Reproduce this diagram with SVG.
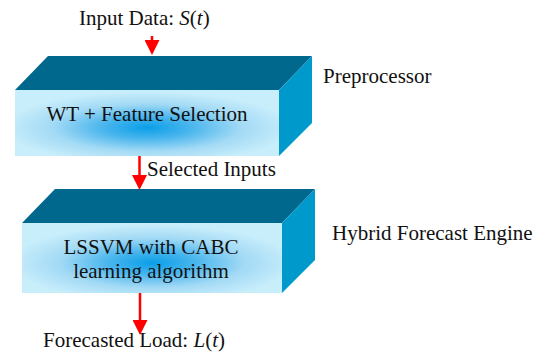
<svg xmlns="http://www.w3.org/2000/svg" width="544" height="354" viewBox="0 0 544 354">
  <style>
    text { font-family: "Liberation Serif", "Times New Roman", serif; font-size: 21px; fill: #111; }
    .top { fill: #00688C; }
    .side { fill: #0099CC; }
    .front { fill: url(#faceGlow); }
    .flow { stroke: #FF0000; stroke-width: 2.5; fill: none; marker-end: url(#head); }
  </style>
  <defs>
    <radialGradient id="faceGlow" cx="0.5" cy="0.57" r="0.55">
      <stop offset="0" stop-color="#0A9EE8"/>
      <stop offset="0.3" stop-color="#48B5ED"/>
      <stop offset="0.65" stop-color="#A3DAF5"/>
      <stop offset="1" stop-color="#C9EEFB"/>
    </radialGradient>
    <marker id="head" markerUnits="userSpaceOnUse" markerWidth="15" markerHeight="15" refX="0" refY="7.5" orient="auto">
      <path d="M0,0 L15,7.5 L0,15 Z" fill="#FF0000"/>
    </marker>
  </defs>

  <!-- preprocessing block -->
  <g id="preprocessor">
    <polygon class="top" points="15,90 48,56 312,56 279,90"/>
    <polygon class="side" points="279,90 312,56 312,123 279,156"/>
    <rect class="front" x="15" y="90" width="264" height="66"/>
    <text x="147" y="121" text-anchor="middle">WT + Feature Selection</text>
    <text x="323" y="83">Preprocessor</text>
  </g>

  <!-- forecast engine block -->
  <g id="forecast-engine">
    <polygon class="top" points="22,223 55,189 315,189 282,223"/>
    <polygon class="side" points="282,223 315,189 315,260 282,293"/>
    <rect class="front" x="22" y="223" width="260" height="70"/>
    <text x="151" y="254" text-anchor="middle">LSSVM with CABC</text>
    <text x="151" y="278" text-anchor="middle">learning algorithm</text>
    <text x="332" y="240" font-size="21.5">Hybrid Forecast Engine</text>
  </g>

  <!-- data flow -->
  <g id="connectors">
    <path class="flow" d="M152,36 V40"/>
    <path class="flow" d="M139.5,156 V175"/>
    <path class="flow" d="M140,293 V320"/>
  </g>

  <g id="labels">
    <text x="79" y="25" font-size="20">Input Data: <tspan font-style="italic">S</tspan>(<tspan font-style="italic">t</tspan>)</text>
    <text x="147" y="176">Selected Inputs</text>
    <text x="43" y="347">Forecasted Load: <tspan font-style="italic">L</tspan>(<tspan font-style="italic">t</tspan>)</text>
  </g>
</svg>
